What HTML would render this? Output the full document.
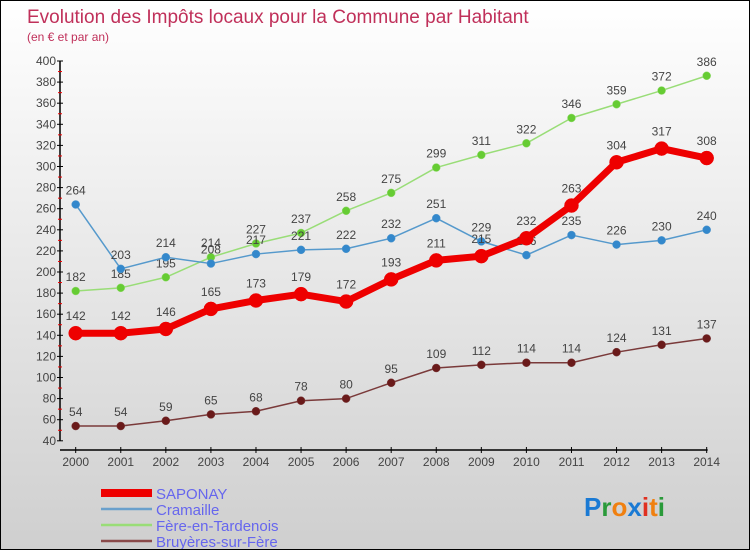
<!DOCTYPE html>
<html><head><meta charset="utf-8"><style>
body{margin:0;width:750px;height:550px;overflow:hidden;font-family:"Liberation Sans",sans-serif}
#wrap{position:absolute;left:0;top:0;width:748px;height:548px;border:1px solid #000;background:linear-gradient(#fff,#cfcfcf)}
</style></head><body>
<div id="wrap">
<svg id="chart" width="748" height="548"></svg>
</div>
<script>
const years=[2000,2001,2002,2003,2004,2005,2006,2007,2008,2009,2010,2011,2012,2013,2014];
const saponay=[142,142,146,165,173,179,172,193,211,215,232,263,304,317,308];
const cramaille=[264,203,214,208,217,221,222,232,251,229,216,235,226,230,240];
const fere=[182,185,195,214,227,237,258,275,299,311,322,346,359,372,386];
const bruyeres=[54,54,59,65,68,78,80,95,109,112,114,114,124,131,137];
const yTicks=[40,60,80,100,120,140,160,180,200,220,240,260,280,300,320,340,360,380,400];
const NS='http://www.w3.org/2000/svg';
const svg=document.getElementById('chart');
function X(i){return 74.7+i*45.07;}
function Y(v){return 60+(400-v)*1.055;}
function el(t,a,p){const e=document.createElementNS(NS,t);for(const k in a)e.setAttribute(k,a[k]);(p||svg).appendChild(e);return e;}
function txt(x,y,s,a){const t=el('text',Object.assign({x:x,y:y},a));t.textContent=s;return t;}
let t=txt(26,22,'Evolution des Impôts locaux pour la Commune par Habitant',{fill:'#c0305a','font-size':19});

t=txt(26,40,'(en € et par an)',{fill:'#c0305a','font-size':12});

let a=el('line',{x1:59,y1:Y(400),x2:59,y2:Y(40),stroke:'#000','stroke-width':1.5});

yTicks.forEach((v,i)=>{
 el('line',{x1:56,y1:Y(v),x2:62,y2:Y(v),stroke:'#000'});
 if(i<yTicks.length-1)el('line',{x1:57,y1:Y(v+10),x2:61,y2:Y(v+10),stroke:'#e00'});
 const l=txt(55,Y(v)+4,v,{'text-anchor':'end','font-size':12,fill:'#444'});
 
});
a=el('line',{x1:59,y1:449,x2:X(14)+1,y2:449,stroke:'#000','stroke-width':1.5});

years.forEach((y,i)=>{
 el('line',{x1:X(i),y1:446,x2:X(i),y2:452,stroke:'#000'});
 const l=txt(X(i),465,y,{'text-anchor':'middle','font-size':12,fill:'#444'});
 
});
function series(data,color,dot,w,r,name){
 const g=el('g',{});
 
 el('polyline',{points:data.map((v,i)=>X(i)+','+Y(v)).join(' '),fill:'none',stroke:color,'stroke-width':w,'stroke-linejoin':'round'},g);
 data.forEach((v,i)=>{
  const c=el('circle',{cx:X(i),cy:Y(v),r:r,fill:dot,stroke:color,'stroke-width':0.5},g);
  
  const l=txt(X(i),Y(v)-r-6,v,{'text-anchor':'middle','font-size':12,fill:'#444'},g);
  
 });
}
series(bruyeres,'#7a3a3a','#6a1a1a',1.5,4,'series-bruyeres');
series(fere,'#99dd77','#66cc33',1.5,4,'series-fere');
series(cramaille,'#5599cc','#3388cc',1.5,4,'series-cramaille');
series(saponay,'#ee0000','#ee0000',7,7,'series-saponay');
const leg=[['SAPONAY','#ee0000',8],['Cramaille','#6aa0cc',2.5],['Fère-en-Tardenois','#99dd77',2.5],['Bruyères-sur-Fère','#8a4a4a',2.5]];
leg.forEach((d,i)=>{
 const g=el('g',{});
 const y=492+i*16;
 el('line',{x1:100,y1:y,x2:151,y2:y,stroke:d[1],'stroke-width':d[2]},g);
 txt(155,y+6,d[0],{'font-size':15,fill:'#6666ee'},g);
});
const lg=el('text',{x:583,y:515,'font-size':26,'font-weight':'bold'});

[['P','#1a7ad4'],['r','#2a9a3a'],['o','#f08010'],['x','#1a7ad4'],['i','#e03020'],['t','#f08010'],['i','#2a9a3a']].forEach(c=>{const s=el('tspan',{fill:c[1]},lg);s.textContent=c[0];});
</script>
</body></html>
